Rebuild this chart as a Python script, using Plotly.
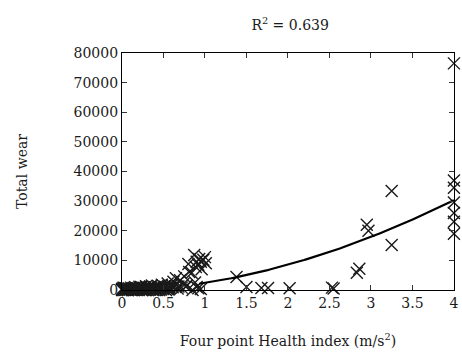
import plotly.graph_objects as go
import numpy as np

# Measured samples: four point health index vs. total wear
health_index = [
    0.00, 0.00, 0.01, 0.02, 0.02, 0.03, 0.04, 0.05, 0.05, 0.06, 0.07, 0.08,
    0.09, 0.10, 0.11, 0.12, 0.12, 0.13, 0.14, 0.15, 0.16, 0.17, 0.18, 0.19,
    0.20, 0.21, 0.22, 0.23, 0.24, 0.25, 0.26, 0.27, 0.28, 0.29, 0.30, 0.31,
    0.32, 0.33, 0.34, 0.35, 0.36, 0.37, 0.38, 0.39, 0.40, 0.41, 0.42, 0.43,
    0.44, 0.45, 0.46, 0.47, 0.48, 0.50, 0.51, 0.52, 0.54, 0.55, 0.57, 0.58,
    0.60, 0.61, 0.62, 0.64, 0.65, 0.67, 0.68, 0.70, 0.72, 0.74, 0.75, 0.77,
    0.78, 0.81, 0.85, 0.88, 0.90, 0.92, 0.95,
    0.01, 0.04, 0.07, 0.10, 0.14, 0.17, 0.20, 0.24, 0.27, 0.31, 0.34, 0.38,
    0.41, 0.45, 0.49, 0.53, 0.56,
    0.80, 0.84, 0.87, 0.89, 0.90, 0.92, 0.93, 0.95, 0.96, 0.98, 1.00, 1.01,
    1.38, 1.50, 1.68, 1.76, 2.02, 2.53, 2.55, 2.83, 2.86, 2.95, 2.97,
    3.25, 3.25, 4.00, 4.00, 4.00, 4.00, 4.00, 4.00, 4.00,
]
total_wear = [
    300, 0, 500, 200, 800, 0, 700, 100, 500, 400, 0, 600,
    200, 300, 800, 0, 500, 300, 700, 100, 900, 400, 200, 600,
    0, 1100, 400, 1000, 200, 300, 800, 500, 0, 1300, 600, 200,
    900, 400, 1200, 600, 1500, 0, 300, 1000, 800, 400, 0, 1400,
    1200, 700, 600, 200, 1800, 400, 1100, 1000, 600, 2200, 300, 700,
    1700, 900, 2800, 1300, 4000, 500, 1200, 3300, 800, 2000, 4600, 1100,
    1500, 6100, 0, 2500, 1000, 600, 300,
    0, 100, 0, 200, 0, 100, 300, 0, 100, 0, 200, 0,
    100, 0, 300, 0, 200,
    8800, 5800, 11800, 7800, 9500, 8500, 10500, 9500, 7000, 10200, 11100, 9000,
    4400, 1000, 700, 700, 600, 800, 500, 5800, 7200, 22000, 20000,
    33400, 15200, 76500, 37000, 34500, 29500, 26000, 23000, 19000,
]

# Power-law trend fitted to the samples: wear = k * index^p
fit_k = 2400
fit_p = 1.83
fit_x_start = 0.93
fit_x_end = 4.0

r_squared = 0.639
x_ticks = [0, 0.5, 1, 1.5, 2, 2.5, 3, 3.5, 4]
x_tick_text = ["0", "0.5", "1", "1.5", "2", "2.5", "3", "3.5", "4"]
y_ticks = [0, 10000, 20000, 30000, 40000, 50000, 60000, 70000, 80000]
y_tick_text = ["0", "10000", "20000", "30000", "40000", "50000", "60000",
               "70000", "80000"]

FONT = "DejaVu Serif"
INK = "#1a1a1a"

fit_x = np.linspace(fit_x_start, fit_x_end, 120)
fit_y = fit_k * fit_x ** fit_p

fig = go.Figure()
fig.add_trace(go.Scatter(
    x=health_index, y=total_wear, mode="markers",
    marker=dict(symbol="x-thin", size=12, color=INK,
                line=dict(width=1.4, color=INK)),
    cliponaxis=False, showlegend=False,
))
fig.add_trace(go.Scatter(
    x=fit_x, y=fit_y, mode="lines",
    line=dict(color="black", width=2.2),
    cliponaxis=False, showlegend=False,
))

axis_common = dict(
    showgrid=False, zeroline=False, showline=True, linecolor="black",
    linewidth=1.3, mirror="ticks", ticks="inside", ticklen=5,
    tickcolor="#333", tickwidth=1, ticklabeloverflow="allow",
    tickfont=dict(family=FONT, size=14, color=INK),
)

fig.update_layout(
    width=462, height=361,
    margin=dict(l=122, r=4, t=53, b=71),
    paper_bgcolor="white", plot_bgcolor="white",
    title=dict(text=f"R<sup>2</sup> = {r_squared}", x=0.628, xanchor="center",
               y=0.93, yanchor="middle",
               font=dict(family=FONT, size=14, color=INK)),
    xaxis=dict(range=[0, 4.001], tickvals=x_ticks, ticktext=x_tick_text,
               title=dict(text="Four point Health index (m/s<sup>2</sup>)",
                          font=dict(family=FONT, size=14, color=INK),
                          standoff=26),
               **axis_common),
    yaxis=dict(range=[0, 80000], tickvals=y_ticks, ticktext=y_tick_text,
               title=dict(text="Total wear",
                          font=dict(family=FONT, size=14, color=INK),
                          standoff=42),
               **axis_common),
)

fig.write_html("out.html")
